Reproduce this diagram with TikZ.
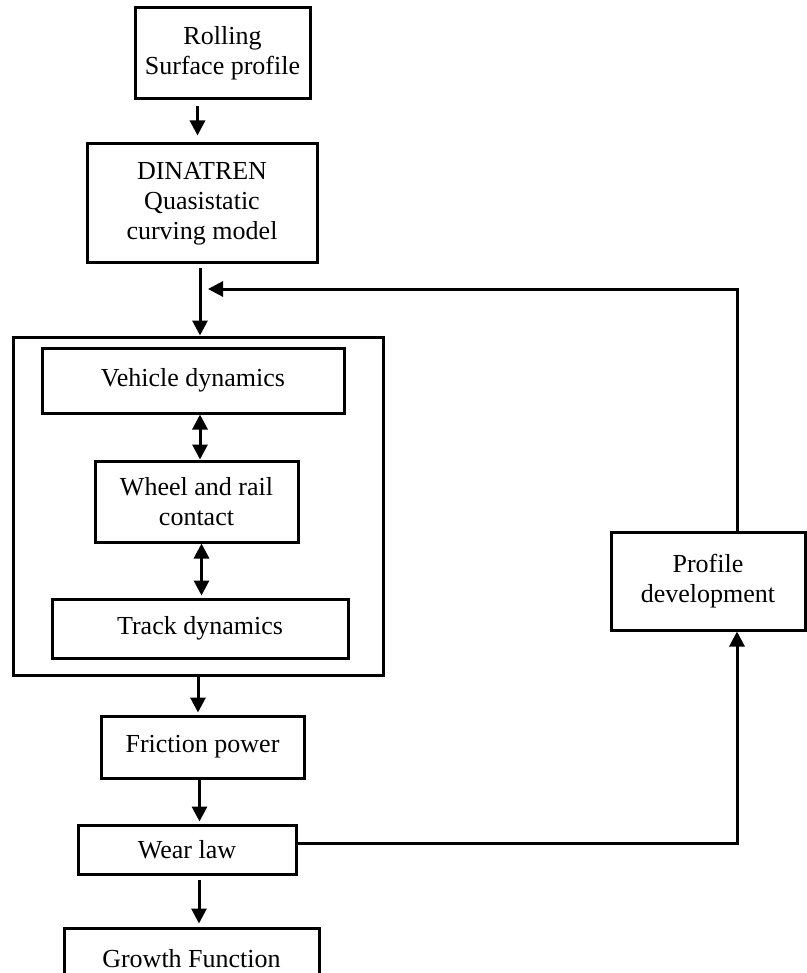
\documentclass[tikz,border=0pt]{standalone}
\usepackage{fontspec}
\setmainfont{Liberation Serif}
\usetikzlibrary{arrows.meta}

\begin{document}
\begin{tikzpicture}[x=1pt,y=-1pt,
     box/.style={draw,line width=3pt,align=center,inner sep=0pt,
                 font=\fontsize{26}{30}\selectfont},
     arr/.style={line width=3pt,-{Triangle[length=15pt,width=15pt]}},
     darr/.style={line width=3pt,{Triangle[length=15pt,width=15pt]}-{Triangle[length=15pt,width=15pt]}}]

          \useasboundingbox (0,0) rectangle (806,973);

          \node[box,minimum width=175pt,minimum height=91pt] (rolling) at (222.5,53.5) {Rolling\\Surface profile};
          \node[box,minimum width=230pt,minimum height=119pt] (dinatren) at (202,203.5) {DINATREN\\Quasistatic\\curving model};

          \node[box,minimum width=370pt,minimum height=338pt] (outer) at (198,506) {};
          \node[box,minimum width=302pt,minimum height=65pt] (vehicle) at (193,380.5) {Vehicle dynamics};
          \node[box,minimum width=203pt,minimum height=81pt] (wheel) at (196.5,501.5) {Wheel and rail\\contact};
          \node[box,minimum width=296pt,minimum height=59pt] (track) at (200,628.5) {Track dynamics};

          \node[box,minimum width=203pt,minimum height=62pt] (friction) at (202.5,747) {Friction power};
          \node[box,minimum width=218pt,minimum height=49pt] (wear) at (187,849.5) {Wear law};
          \node[box,minimum width=255pt,minimum height=62pt] (growth) at (191.5,959) {Growth Function};
          \node[box,minimum width=194pt,minimum height=98pt] (profile) at (708,581) {Profile\\development};

          \coordinate (join) at (200,289);
          \coordinate (bend) at (737,289);

          \draw[arr,shorten <=6pt,shorten >=7pt] ([xshift=-25pt]rolling.south) -- ([xshift=-25pt]rolling.south |- dinatren.north);
          \draw[arr,shorten <=4pt] (dinatren.south -| join) -- (outer.north -| join);
          \draw[darr] (vehicle.south -| join) -- (wheel.north -| join);
          \draw[darr,shorten >=2pt] ([xshift=5pt]wheel.south) -- ([xshift=5pt]wheel.south |- track.north);
          \draw[arr,shorten >=2pt] (outer.south) -- (outer.south |- friction.north);
          \draw[arr,shorten >=2pt] ([xshift=-3pt]friction.south) -- ([xshift=-3pt]friction.south |- wear.north);
          \draw[arr,shorten <=4pt,shorten >=3pt] ([xshift=12pt]wear.south) -- ([xshift=12pt]wear.south |- growth.north);

          \draw[arr] ([yshift=6pt]wear.east) -| (profile.south -| bend);
          \draw[arr,shorten >=8pt] (profile.north -| bend) |- (join);
        \end{tikzpicture}
\end{document}
